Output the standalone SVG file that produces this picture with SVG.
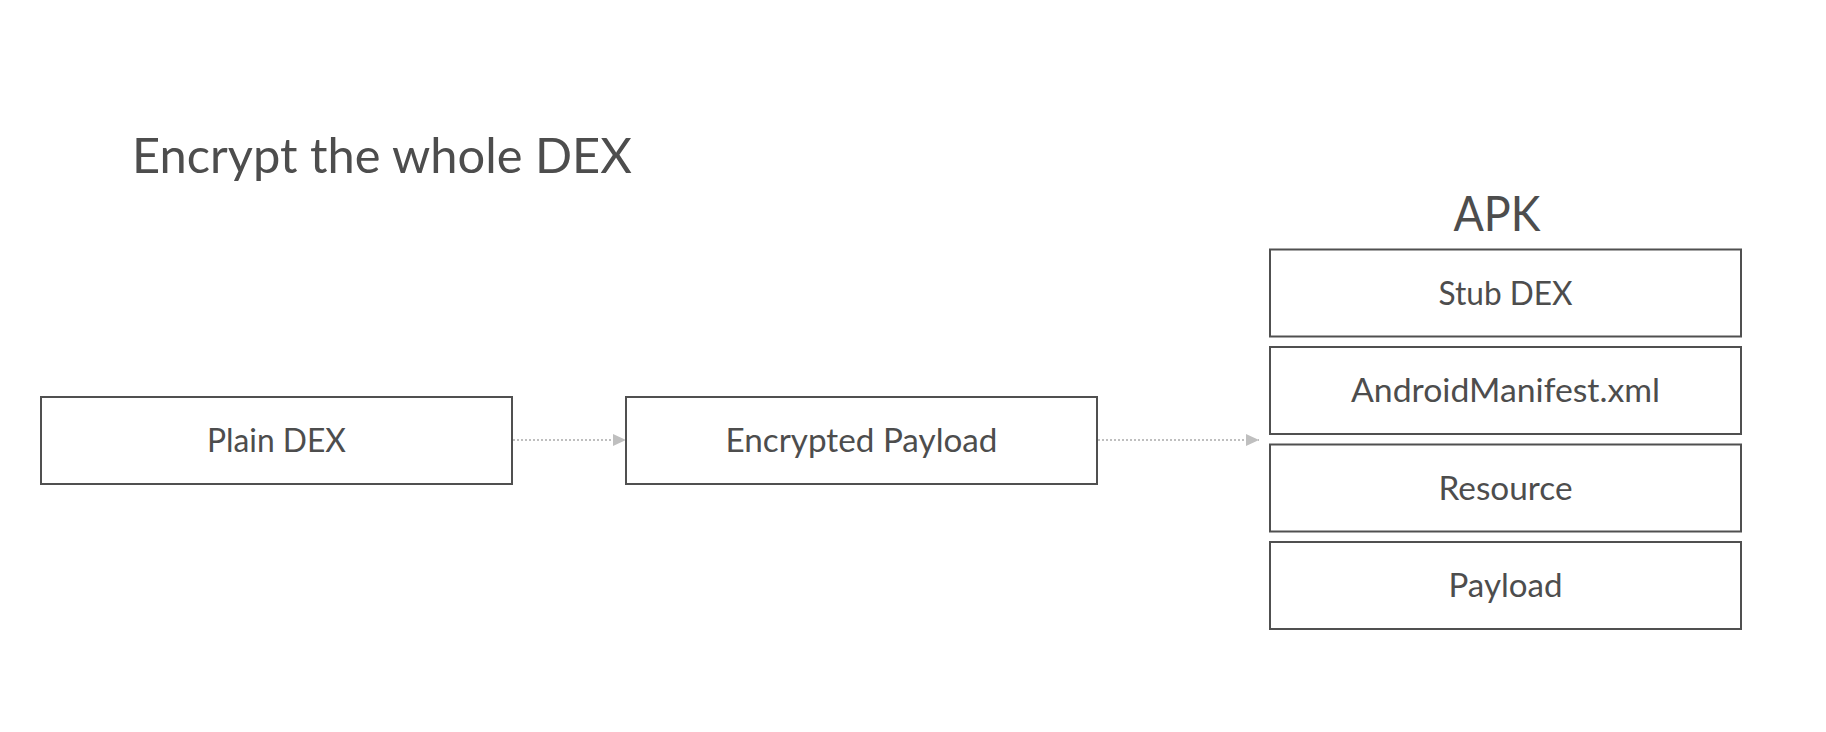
<svg xmlns="http://www.w3.org/2000/svg" width="1826" height="732" viewBox="0 0 1826 732">
  <defs>
    <style>
      .box { fill: #ffffff; stroke: #505050; stroke-width: 2; }
      .lbl { font-family: Lato, "Open Sans", "Liberation Sans", sans-serif; font-size: 32px; fill: #4d4d4d; text-anchor: middle; }
      .big { font-family: Lato, "Open Sans", "Liberation Sans", sans-serif; font-size: 48px; fill: #4d4d4d; }
      .conn { stroke: #bfbfbf; stroke-width: 2; stroke-dasharray: 2 2; fill: none; }
    </style>
    <marker id="arrow" viewBox="0 0 13 12" refX="13" refY="6" markerWidth="13" markerHeight="12" markerUnits="userSpaceOnUse" orient="auto">
      <path d="M0,0 L13,6 L0,12 Z" fill="#bfbfbf"/>
    </marker>
  </defs>
  <rect width="1826" height="732" fill="#ffffff"/>

  <g id="title">
    <text class="big" x="132" y="173" textLength="500" lengthAdjust="spacingAndGlyphs">Encrypt the whole DEX</text>
  </g>

  <g id="connectors">
    <line class="conn" x1="513" y1="440" x2="626" y2="440" marker-end="url(#arrow)"/>
    <line class="conn" x1="1098" y1="440" x2="1259" y2="440" marker-end="url(#arrow)"/>
  </g>

  <g id="plain-dex">
    <rect class="box" x="41" y="397" width="471" height="87"/>
    <text class="lbl" x="276.5" y="452" textLength="139" lengthAdjust="spacingAndGlyphs">Plain DEX</text>
  </g>

  <g id="encrypted-payload">
    <rect class="box" x="626" y="397" width="471" height="87"/>
    <text class="lbl" x="861.5" y="452" textLength="272" lengthAdjust="spacingAndGlyphs">Encrypted Payload</text>
  </g>

  <g id="apk">
    <text class="big" x="1497" y="231" text-anchor="middle" font-size="50" textLength="87" lengthAdjust="spacingAndGlyphs">APK</text>
  </g>

  <g id="stub-dex">
    <rect class="box" x="1270" y="249.5" width="471" height="87"/>
    <text class="lbl" x="1505.5" y="304.5" textLength="134" lengthAdjust="spacingAndGlyphs">Stub DEX</text>
  </g>

  <g id="android-manifest">
    <rect class="box" x="1270" y="347" width="471" height="87"/>
    <text class="lbl" x="1505.5" y="402" textLength="309" lengthAdjust="spacingAndGlyphs">AndroidManifest.xml</text>
  </g>

  <g id="resource">
    <rect class="box" x="1270" y="444.5" width="471" height="87"/>
    <text class="lbl" x="1505.5" y="499.5" textLength="134" lengthAdjust="spacingAndGlyphs">Resource</text>
  </g>

  <g id="payload">
    <rect class="box" x="1270" y="542" width="471" height="87"/>
    <text class="lbl" x="1505.5" y="597" textLength="114" lengthAdjust="spacingAndGlyphs">Payload</text>
  </g>
</svg>
